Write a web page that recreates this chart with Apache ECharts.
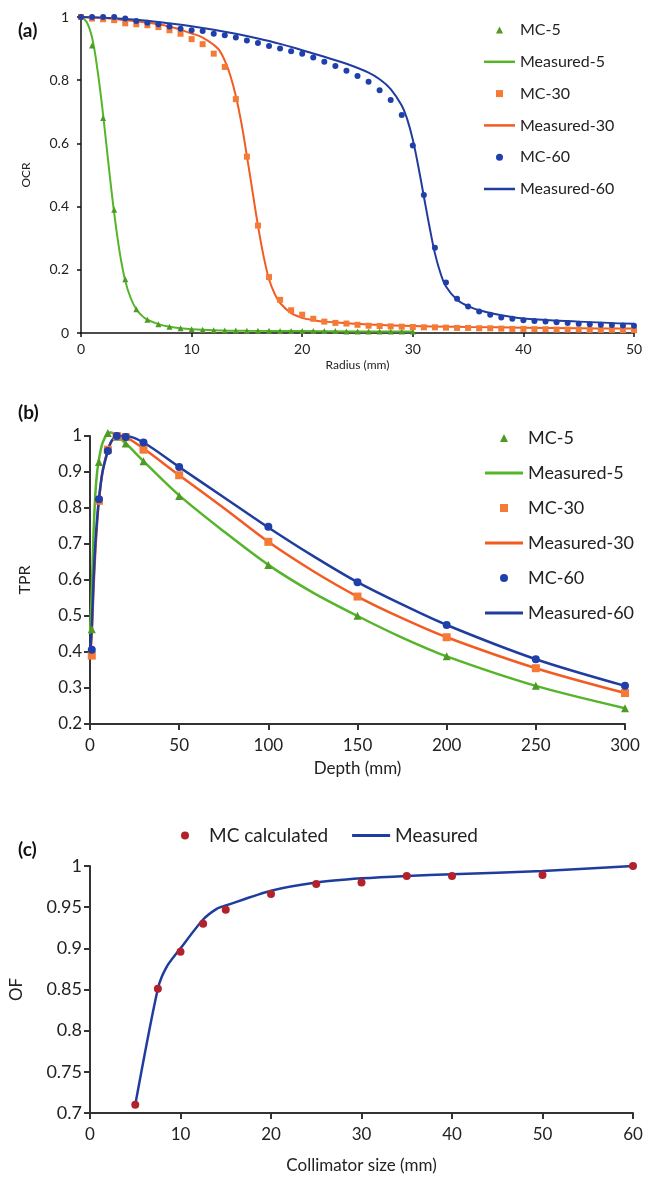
<!DOCTYPE html>
<html><head><meta charset="utf-8">
<script src="https://cdn.jsdelivr.net/npm/echarts@6/dist/echarts.min.js"></script>
<style>html,body{margin:0;padding:0;background:#fff}#c{width:655px;height:1177px}</style>
</head><body><div id="c"></div>
<script>
// ---------- Panel (a): OCR vs radius ----------
const ocrRadiusMC = [0,1,2,3,4,5,6,7,8,9,10,11,12,13,14,15,16,17,18,19,20,21,22,23,24,25,26,27,28,29,30,31,32,33,34,35,36,37,38,39,40,41,42,43,44,45,46,47,48,49,50];
const ocrRadiusMC5 = [0,1,2,3,4,5,6,7,8,9,10,11,12,13,14,15,16,17,18,19,20,21,22,23,24,25,26,27,28,29,30];
const ocrMC5 = [1.0,0.91,0.68,0.39,0.17,0.075,0.042,0.028,0.02,0.015,0.012,0.01,0.009,0.008,0.008,0.007,0.007,0.007,0.006,0.006,0.006,0.006,0.006,0.006,0.005,0.005,0.005,0.005,0.005,0.005,0.005];
const ocrMeas5X = [0,0.5,1,1.5,2,2.5,3,3.5,4,4.5,5,5.5,6,7,8,9,10,12,15,20,25,30];
const ocrMeas5 = [1.0,0.985,0.935,0.83,0.69,0.53,0.38,0.255,0.165,0.11,0.075,0.055,0.042,0.028,0.02,0.015,0.012,0.009,0.007,0.006,0.005,0.005];
const ocrMC30 = [1.0,0.995,0.993,0.99,0.98,0.977,0.974,0.968,0.958,0.947,0.93,0.914,0.884,0.842,0.74,0.558,0.34,0.177,0.105,0.072,0.058,0.045,0.036,0.032,0.03,0.026,0.023,0.022,0.021,0.02,0.019,0.018,0.018,0.017,0.016,0.016,0.015,0.015,0.014,0.013,0.013,0.012,0.012,0.011,0.011,0.011,0.01,0.01,0.01,0.009,0.009];
const ocrMeas30X = [0,2,4,6,8,10,11,12,12.5,13,13.5,14,14.5,15,15.5,16,16.5,17,17.5,18,19,20,21,22,24,26,30,35,40,45,50];
const ocrMeas30 = [1.0,0.997,0.99,0.982,0.97,0.948,0.935,0.912,0.895,0.862,0.815,0.75,0.665,0.56,0.45,0.34,0.245,0.17,0.125,0.095,0.063,0.048,0.041,0.036,0.031,0.027,0.022,0.019,0.017,0.015,0.014];
const ocrMC60 = [1.0,1.0,1.0,1.0,0.995,0.987,0.982,0.977,0.97,0.963,0.958,0.956,0.947,0.942,0.935,0.926,0.918,0.908,0.9,0.892,0.884,0.872,0.858,0.845,0.83,0.813,0.795,0.768,0.737,0.69,0.593,0.437,0.27,0.16,0.108,0.084,0.068,0.058,0.049,0.045,0.04,0.038,0.036,0.034,0.032,0.029,0.028,0.026,0.025,0.024,0.023];
const ocrMeas60X = [0,2,4,6,8,10,12,14,16,18,20,22,24,26,27,28,29,29.5,30,30.5,31,31.5,32,32.5,33,34,35,36,38,40,45,50];
const ocrMeas60 = [1.0,0.998,0.994,0.988,0.98,0.971,0.96,0.947,0.932,0.915,0.895,0.874,0.852,0.824,0.803,0.772,0.72,0.676,0.612,0.527,0.432,0.338,0.252,0.19,0.147,0.105,0.085,0.072,0.056,0.046,0.036,0.029];

// ---------- Panel (b): TPR vs depth ----------
const tprDepthMC = [1,5,10,15,20,30,50,100,150,200,250,300];
const tprMC5 = [0.463,0.928,1.008,0.998,0.979,0.93,0.833,0.642,0.501,0.388,0.306,0.244];
const tprMC30 = [0.39,0.82,0.962,1.0,0.997,0.962,0.891,0.706,0.554,0.441,0.355,0.286];
const tprMC60 = [0.406,0.824,0.958,1.0,0.997,0.982,0.914,0.748,0.594,0.475,0.38,0.306];
const tprDepthMeas = [0,1,2,3,4,5,7,10,12,15,20,30,50,75,100,125,150,175,200,250,300];
const tprMeas5 = [0.45,0.57,0.73,0.84,0.9,0.935,0.98,1.008,1.01,1.0,0.98,0.93,0.835,0.735,0.642,0.565,0.5,0.44,0.388,0.306,0.244];
const tprMeas30 = [0.38,0.45,0.58,0.68,0.76,0.82,0.9,0.962,0.985,1.0,0.997,0.965,0.891,0.8,0.706,0.625,0.554,0.494,0.441,0.355,0.286];
const tprMeas60 = [0.39,0.47,0.6,0.7,0.77,0.825,0.9,0.958,0.985,1.0,1.0,0.982,0.914,0.83,0.746,0.667,0.594,0.532,0.475,0.38,0.306];

// ---------- Panel (c): OF vs collimator size ----------
const ofSizeMC = [5,7.5,10,12.5,15,20,25,30,35,40,50,60];
const ofMC = [0.71,0.851,0.896,0.93,0.947,0.966,0.978,0.98,0.988,0.988,0.989,1.0];
const ofSizeMeas = [5,7.5,8.5,10,12.5,14,15,20,25,30,35,40,50,60];
const ofMeas = [0.71,0.851,0.878,0.9,0.935,0.948,0.952,0.97,0.98,0.985,0.988,0.99,0.994,1.0];

const legendNames = ['MC-5','Measured-5','MC-30','Measured-30','MC-60','Measured-60'];
const legendNamesC = ['MC calculated','Measured'];

const FONT = 'Lato';
const zip = (xs, ys) => xs.map((x, i) => [x, ys[i]]);

const C = {
  g: '#55b52a', gm: '#4f9a24',
  o: '#f25c22', om: '#f47a35',
  b: '#1f3d9e', bm: '#1f3fab',
  r: '#b3222b'
};

const ICON = {
  tri: 'path://M5,0L10,10L0,10Z',
  rect: 'path://M0,0H10V10H0Z',
  circ: 'path://M5,0A5,5 0 1 1 5,10A5,5 0 1 1 5,0Z'
};
const lineIcon = (w, h) => 'path://M0,0H' + w + 'V' + h + 'H0Z';

function legendData(w, th) {
  const li = lineIcon(w, th);
  const spec = [[ICON.tri, C.gm], [li, C.g], [ICON.rect, C.om], [li, C.o], [ICON.circ, C.bm], [li, C.b]];
  return legendNames.map((n, i) => ({ name: n, icon: spec[i][0], itemStyle: { color: spec[i][1], borderWidth: 0 } }));
}

function axisCommon(color, w, fs, margin, tickLen) {
  return {
    axisLine: { show: true, onZero: false, lineStyle: { color: color, width: w } },
    axisTick: { show: true, length: tickLen, lineStyle: { color: color, width: w } },
    axisLabel: { color: '#222', fontSize: fs, fontFamily: FONT, margin: margin },
    splitLine: { show: false }
  };
}

const option = {
  animation: false,
  backgroundColor: '#fff',
  title: [
    { text: '(a)', left: 13, top: 16, textStyle: { fontFamily: FONT, fontWeight: 'bold', fontSize: 19, color: '#111' } },
    { text: '(b)', left: 13, top: 398, textStyle: { fontFamily: FONT, fontWeight: 'bold', fontSize: 19, color: '#111' } },
    { text: '(c)', left: 13, top: 835, textStyle: { fontFamily: FONT, fontWeight: 'bold', fontSize: 19, color: '#111' } }
  ],
  grid: [
    { left: 81, right: 21, top: 17, height: 316 },
    { left: 90, right: 30, top: 436, height: 288 },
    { left: 90, right: 22, top: 866, height: 247 }
  ],
  xAxis: [
    Object.assign({ gridIndex: 0, type: 'value', min: 0, max: 50, interval: 10,
      name: 'Radius (mm)', nameLocation: 'middle', nameGap: 26,
      nameTextStyle: { fontFamily: FONT, fontSize: 12, color: '#222' } }, axisCommon('#111', 1.5, 14, 9, 4)),
    Object.assign({ gridIndex: 1, type: 'value', min: 0, max: 300, interval: 50,
      name: 'Depth (mm)', nameLocation: 'middle', nameGap: 36,
      nameTextStyle: { fontFamily: FONT, fontSize: 17, color: '#222' } }, axisCommon('#333', 2, 17, 13, 6)),
    Object.assign({ gridIndex: 2, type: 'value', min: 0, max: 60, interval: 10,
      name: 'Collimator size (mm)', nameLocation: 'middle', nameGap: 44,
      nameTextStyle: { fontFamily: FONT, fontSize: 17, color: '#222' } }, axisCommon('#333', 2, 17, 13, 6))
  ],
  yAxis: [
    Object.assign({ gridIndex: 0, type: 'value', min: 0, max: 1, interval: 0.2,
      name: 'OCR', nameLocation: 'middle', nameGap: 49,
      nameTextStyle: { fontFamily: FONT, fontSize: 12, color: '#222' } }, axisCommon('#111', 1.5, 14, 12, 4)),
    Object.assign({ gridIndex: 1, type: 'value', min: 0.2, max: 1, interval: 0.1,
      name: 'TPR', nameLocation: 'middle', nameGap: 57,
      nameTextStyle: { fontFamily: FONT, fontSize: 16, color: '#222' } }, axisCommon('#333', 2, 17, 8, 6)),
    Object.assign({ gridIndex: 2, type: 'value', min: 0.7, max: 1, interval: 0.05,
      name: 'OF', nameLocation: 'middle', nameGap: 65,
      nameTextStyle: { fontFamily: FONT, fontSize: 17, color: '#222' } }, axisCommon('#333', 2, 18, 8, 6))
  ],
  legend: [
    { orient: 'vertical', left: 479, top: 15, itemWidth: 31, itemHeight: 7, itemGap: 11.8,
      symbolKeepAspect: true, data: legendData(31, 2.5), selectedMode: false,
      textStyle: { fontFamily: FONT, fontSize: 16, lineHeight: 20, color: '#222' } },
    { orient: 'vertical', left: 480, top: 422, itemWidth: 38, itemHeight: 8, itemGap: 13,
      symbolKeepAspect: true, data: legendData(38, 3), selectedMode: false,
      textStyle: { fontFamily: FONT, fontSize: 18, lineHeight: 22, color: '#222' } },
    { orient: 'horizontal', left: 176, top: 821, itemWidth: 38, itemHeight: 8, itemGap: 24,
      symbolKeepAspect: true, selectedMode: false,
      data: [
        { name: legendNamesC[0], icon: ICON.circ, itemStyle: { color: C.r, borderWidth: 0 } },
        { name: legendNamesC[1], icon: lineIcon(38, 3), itemStyle: { color: C.b, borderWidth: 0 } }
      ],
      textStyle: { fontFamily: FONT, fontSize: 19, color: '#222' } }
  ],
  series: [
    // (a)
    { name: 'Measured-5', type: 'line', xAxisIndex: 0, yAxisIndex: 0, data: zip(ocrMeas5X, ocrMeas5), smooth: 0.4, symbol: 'none', lineStyle: { color: C.g, width: 2 }, itemStyle: { color: C.g }, z: 2 },
    { name: 'Measured-30', type: 'line', xAxisIndex: 0, yAxisIndex: 0, data: zip(ocrMeas30X, ocrMeas30), smooth: 0.4, symbol: 'none', lineStyle: { color: C.o, width: 2 }, itemStyle: { color: C.o }, z: 2 },
    { name: 'Measured-60', type: 'line', xAxisIndex: 0, yAxisIndex: 0, data: zip(ocrMeas60X, ocrMeas60), smooth: 0.4, symbol: 'none', lineStyle: { color: C.b, width: 2 }, itemStyle: { color: C.b }, z: 2 },
    { name: 'MC-5', type: 'scatter', xAxisIndex: 0, yAxisIndex: 0, data: zip(ocrRadiusMC5, ocrMC5), symbol: 'triangle', symbolSize: 6, itemStyle: { color: C.gm, opacity: 1 }, z: 3 },
    { name: 'MC-30', type: 'scatter', xAxisIndex: 0, yAxisIndex: 0, data: zip(ocrRadiusMC, ocrMC30), symbol: 'rect', symbolSize: 6, itemStyle: { color: C.om, opacity: 1 }, z: 3 },
    { name: 'MC-60', type: 'scatter', xAxisIndex: 0, yAxisIndex: 0, data: zip(ocrRadiusMC, ocrMC60), symbol: 'circle', symbolSize: 6, itemStyle: { color: C.bm, opacity: 1 }, z: 3 },
    // (b)
    { name: 'Measured-5', type: 'line', xAxisIndex: 1, yAxisIndex: 1, data: zip(tprDepthMeas, tprMeas5), smooth: 0.3, clip: false, symbol: 'none', lineStyle: { color: C.g, width: 2.5 }, itemStyle: { color: C.g }, z: 2 },
    { name: 'Measured-30', type: 'line', xAxisIndex: 1, yAxisIndex: 1, data: zip(tprDepthMeas, tprMeas30), smooth: 0.3, clip: false, symbol: 'none', lineStyle: { color: C.o, width: 2.5 }, itemStyle: { color: C.o }, z: 2 },
    { name: 'Measured-60', type: 'line', xAxisIndex: 1, yAxisIndex: 1, data: zip(tprDepthMeas, tprMeas60), smooth: 0.3, clip: false, symbol: 'none', lineStyle: { color: C.b, width: 2.5 }, itemStyle: { color: C.b }, z: 2 },
    { name: 'MC-5', type: 'scatter', xAxisIndex: 1, yAxisIndex: 1, data: zip(tprDepthMC, tprMC5), clip: false, symbol: 'triangle', symbolSize: 8, itemStyle: { color: C.gm, opacity: 1 }, z: 3 },
    { name: 'MC-30', type: 'scatter', xAxisIndex: 1, yAxisIndex: 1, data: zip(tprDepthMC, tprMC30), clip: false, symbol: 'rect', symbolSize: 8, itemStyle: { color: C.om, opacity: 1 }, z: 3 },
    { name: 'MC-60', type: 'scatter', xAxisIndex: 1, yAxisIndex: 1, data: zip(tprDepthMC, tprMC60), clip: false, symbol: 'circle', symbolSize: 8, itemStyle: { color: C.bm, opacity: 1 }, z: 3 },
    // (c)
    { name: 'Measured', type: 'line', xAxisIndex: 2, yAxisIndex: 2, data: zip(ofSizeMeas, ofMeas), smooth: 0.25, symbol: 'none', lineStyle: { color: C.b, width: 2.5 }, itemStyle: { color: C.b }, z: 2 },
    { name: 'MC calculated', type: 'scatter', xAxisIndex: 2, yAxisIndex: 2, data: zip(ofSizeMC, ofMC), symbol: 'circle', symbolSize: 8, itemStyle: { color: C.r, opacity: 1 }, z: 3 }
  ]
};

const chart = echarts.init(document.getElementById('c'), null, { renderer: 'canvas' });
chart.setOption(option);
</script>
</body></html>
